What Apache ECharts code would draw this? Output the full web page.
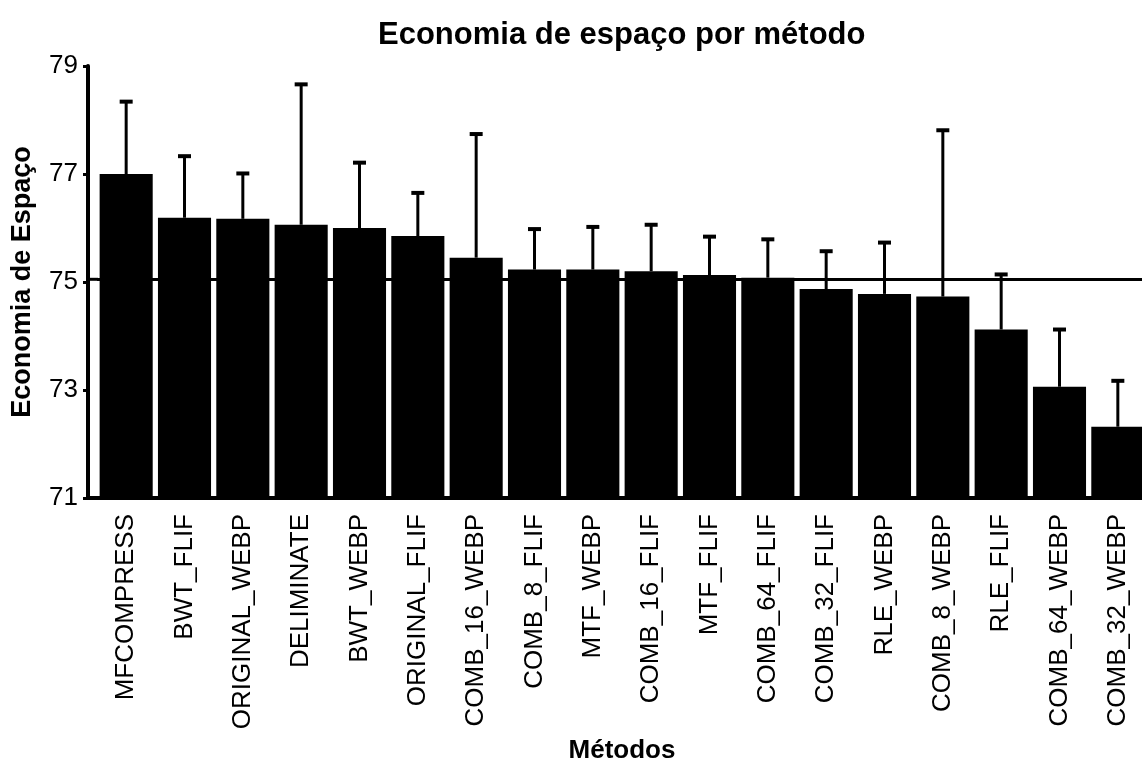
<!DOCTYPE html>
<html>
<head>
<meta charset="utf-8">
<title>Economia de espaço por método</title>
<script src="https://cdn.jsdelivr.net/npm/echarts@6/dist/echarts.min.js"></script>
<style>
  html, body { margin: 0; padding: 0; background: #fff; }
  #chart { width: 1142px; height: 762px; }
</style>
</head>
<body>
<div id="chart"></div>
<script>
// dados
var metodos = ['MFCOMPRESS', 'BWT_FLIF', 'ORIGINAL_WEBP', 'DELIMINATE', 'BWT_WEBP', 'ORIGINAL_FLIF',
  'COMB_16_WEBP', 'COMB_8_FLIF', 'MTF_WEBP', 'COMB_16_FLIF', 'MTF_FLIF', 'COMB_64_FLIF',
  'COMB_32_FLIF', 'RLE_WEBP', 'COMB_8_WEBP', 'RLE_FLIF', 'COMB_64_WEBP', 'COMB_32_WEBP']
var medias = [77.0, 76.19, 76.17, 76.06, 76.0, 75.85, 75.45, 75.23, 75.23, 75.2, 75.13, 75.08,
  74.87, 74.78, 74.73, 74.12, 73.06, 72.32]
var limiteSuperior = [78.34, 77.33, 77.01, 78.66, 77.21, 76.65, 77.74, 75.98, 76.02, 76.06, 75.84, 75.79,
  75.57, 75.73, 77.81, 75.14, 74.12, 73.17]
var linhaReferencia = 75.05
var ticksY = [71, 73, 75, 77, 79]

var fonte = 'Liberation Sans, Arial, sans-serif'
var gridLeft = 97
var yOffset = 9

var chart = echarts.init(document.getElementById('chart'))

var option = {
  animation: false,
  backgroundColor: '#fff',
  title: {
    text: 'Economia de espaço por método',
    left: 373,
    top: 15,
    textStyle: { fontFamily: fonte, fontSize: 31, fontWeight: 'bold', color: '#000' }
  },
  grid: { left: gridLeft, right: -5, top: 66, bottom: 264, outerBoundsMode: 'none', containLabel: false },
  xAxis: {
    type: 'category',
    data: metodos,
    name: 'Métodos',
    nameLocation: 'middle',
    nameGap: 240,
    nameTextStyle: { fontFamily: fonte, fontSize: 26, fontWeight: 'bold', color: '#000' },
    axisLine: { lineStyle: { color: '#000', width: 4 } },
    axisTick: { alignWithLabel: true, length: 5, lineStyle: { color: '#000', width: 3 } },
    axisLabel: { rotate: 90, interval: 0, margin: 16, fontFamily: fonte, fontSize: 26, color: '#000' }
  },
  yAxis: {
    type: 'value',
    min: ticksY[0],
    max: ticksY[ticksY.length - 1],
    interval: 2,
    offset: yOffset,
    name: 'Economia de Espaço',
    nameLocation: 'middle',
    nameGap: 52,
    nameTextStyle: { fontFamily: fonte, fontSize: 27, fontWeight: 'bold', color: '#000' },
    axisLine: { show: true, lineStyle: { color: '#000', width: 4 } },
    axisTick: { show: true, length: 5, lineStyle: { color: '#000', width: 3 } },
    axisLabel: { margin: 10, fontFamily: fonte, fontSize: 26, color: '#000' },
    splitLine: { show: false }
  },
  series: [
    {
      type: 'bar',
      data: medias,
      barCategoryGap: '9%',
      itemStyle: { color: '#000' },
      markLine: {
        silent: true,
        symbol: 'none',
        label: { show: false },
        lineStyle: { color: '#000', width: 3, type: 'solid' },
        data: [{ yAxis: linhaReferencia }]
      }
    },
    {
      type: 'custom',
      data: metodos.map(function (m, i) { return [i, medias[i], limiteSuperior[i]] }),
      encode: { x: 0, y: [1, 2] },
      z: 3,
      renderItem: function (params, api) {
        var base = api.coord([api.value(0), api.value(1)])
        var topo = api.coord([api.value(0), api.value(2)])
        var meio = 6.5
        return {
          type: 'group',
          children: [
            {
              type: 'line',
              shape: { x1: base[0], y1: base[1], x2: topo[0], y2: topo[1] },
              style: { stroke: '#000', lineWidth: 3 }
            },
            {
              type: 'line',
              shape: { x1: topo[0] - meio, y1: topo[1], x2: topo[0] + meio, y2: topo[1] },
              style: { stroke: '#000', lineWidth: 4 }
            }
          ]
        }
      }
    }
  ]
}

chart.setOption(option)

// liga o eixo x e a linha de referência até o eixo y deslocado
var yBase = chart.convertToPixel({ yAxisIndex: 0 }, ticksY[0])
var yRef = chart.convertToPixel({ yAxisIndex: 0 }, linhaReferencia)
chart.setOption({
  graphic: [
    { type: 'line', shape: { x1: gridLeft - yOffset, y1: yBase, x2: gridLeft + 1, y2: yBase }, style: { stroke: '#000', lineWidth: 4 } },
    { type: 'line', shape: { x1: gridLeft - yOffset, y1: yRef, x2: gridLeft + 1, y2: yRef }, style: { stroke: '#000', lineWidth: 3 } }
  ]
})
</script>
</body>
</html>
